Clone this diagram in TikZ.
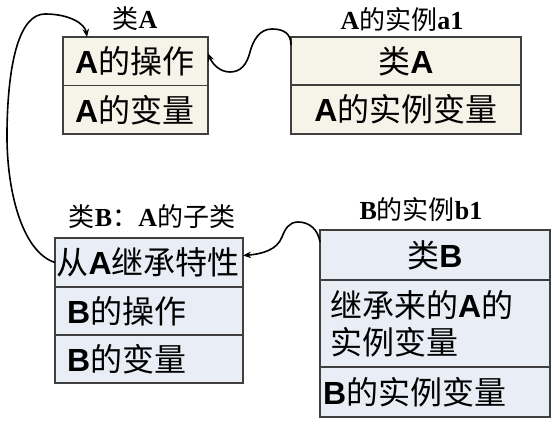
\documentclass[tikz,border=0pt]{standalone}
\usepackage{fontspec}
\setmainfont{Liberation Sans}
\newfontfamily\cjk{Noto Sans CJK SC}
\newfontfamily\tms{Liberation Serif}
\usetikzlibrary{arrows.meta}
\newcommand\zhs[1]{{\cjk #1}}
\newcommand\lat[1]{{\bfseries #1}}
\newcommand\tlat[1]{{\tms\bfseries #1}}
\definecolor{boxline}{HTML}{3F3F3F}
\definecolor{creamfill}{HTML}{F6F3E9}
\definecolor{bluefill}{HTML}{E9EEF6}
\begin{document}
\begin{tikzpicture}[x=1pt,y=-1pt,
  tbox/.style={draw=boxline, line width=1.2pt, anchor=north west, inner ysep=0pt,
    outer sep=0pt, font=\fontsize{32}{37}\selectfont},
  clsA/.style={tbox, fill=creamfill},
  clsB/.style={tbox, fill=bluefill},
  ttl/.style={font=\fontsize{26}{30}\selectfont, inner sep=0pt},
  link/.style={line width=1.6pt, -{Stealth[length=8pt,width=6.5pt]}}
]
\useasboundingbox (0,0) rectangle (559,423);

% class A
\node[clsA, text width=121pt, inner xsep=12pt, minimum height=48.5pt, align=left]
  (a-op) at (63,37) {\lat{A}\zhs{的操作}};
\node[clsA, text width=121pt, inner xsep=12pt, minimum height=48.5pt, align=left]
  (a-var) at (a-op.south west) {\lat{A}\zhs{的变量}};
\node[ttl] (t-a) at (135,19) {\zhs{类}\tlat{A}};

% instance a1
\node[clsA, text width=210pt, inner xsep=10pt, minimum height=48pt, align=center]
  (a1-cls) at (291,37) {\zhs{类}\lat{A}};
\node[clsA, text width=210pt, inner xsep=10pt, minimum height=49pt, align=center]
  (a1-var) at (a1-cls.south west) {\lat{A}\zhs{的实例变量}};
\node[ttl] (t-a1) at (402,20) {\tlat{A}\zhs{的实例}\tlat{a1}};

% class B
\node[clsB, text width=185pt, inner xsep=1.5pt, minimum height=49pt, align=left]
  (b-inh) at (55,238) {\zhs{从}\lat{A}\zhs{继承特性}};
\node[clsB, text width=164pt, inner xsep=12pt, minimum height=48pt, align=left]
  (b-op) at (b-inh.south west) {\lat{B}\zhs{的操作}};
\node[clsB, text width=164pt, inner xsep=12pt, minimum height=48pt, align=left]
  (b-var) at (b-op.south west) {\lat{B}\zhs{的变量}};
\node[ttl] (t-b) at (152,217) {\zhs{类}\tlat{B}\zhs{：}\tlat{A}\zhs{的子类}};

% instance b1
\node[clsB, text width=210pt, inner xsep=10pt, minimum height=50pt, align=center]
  (b1-cls) at (320,230) {\zhs{类}\lat{B}};
\node[clsB, text width=210pt, inner xsep=10pt, minimum height=87pt, align=left]
  (b1-inh) at (b1-cls.south west) {\zhs{继承来的}\lat{A}\zhs{的}\\\zhs{实例变量}};
\node[clsB, text width=224pt, inner xsep=3pt, minimum height=50pt, align=left]
  (b1-var) at (b1-inh.south west) {\lat{B}\zhs{的实例变量}};
\node[ttl] (t-b1) at (421,210) {\tlat{B}\zhs{的实例}\tlat{b1}};

% inheritance: B refers back to A
\draw[link] (b-inh.west)
  .. controls (22,252) and (6,190) .. (7,130)
  .. controls (8,60) and (20,14) .. (45,14)
  .. controls (70,14) and (85,24) .. ([xshift=24pt]a-op.north west);

% a1 refers to its class A
\draw[link] ([yshift=-8pt]a1-cls.north west)
  .. controls (291,33) and (283,29) .. (272,29)
  .. controls (259,29) and (253,41) .. (250,52)
  .. controls (247,64) and (241,72) .. (230,72)
  .. controls (219,72) and (212,63) .. ([yshift=8pt]a-op.east);

% b1 refers to its class B
\draw[link] ([yshift=-12pt]b1-cls.north west)
  .. controls (318,230) and (310,222) .. (298,222)
  .. controls (289,222) and (285,229) .. (282,237)
  .. controls (277,250) and (262,254) .. ([yshift=7pt]b-inh.east);
\end{tikzpicture}
\end{document}
